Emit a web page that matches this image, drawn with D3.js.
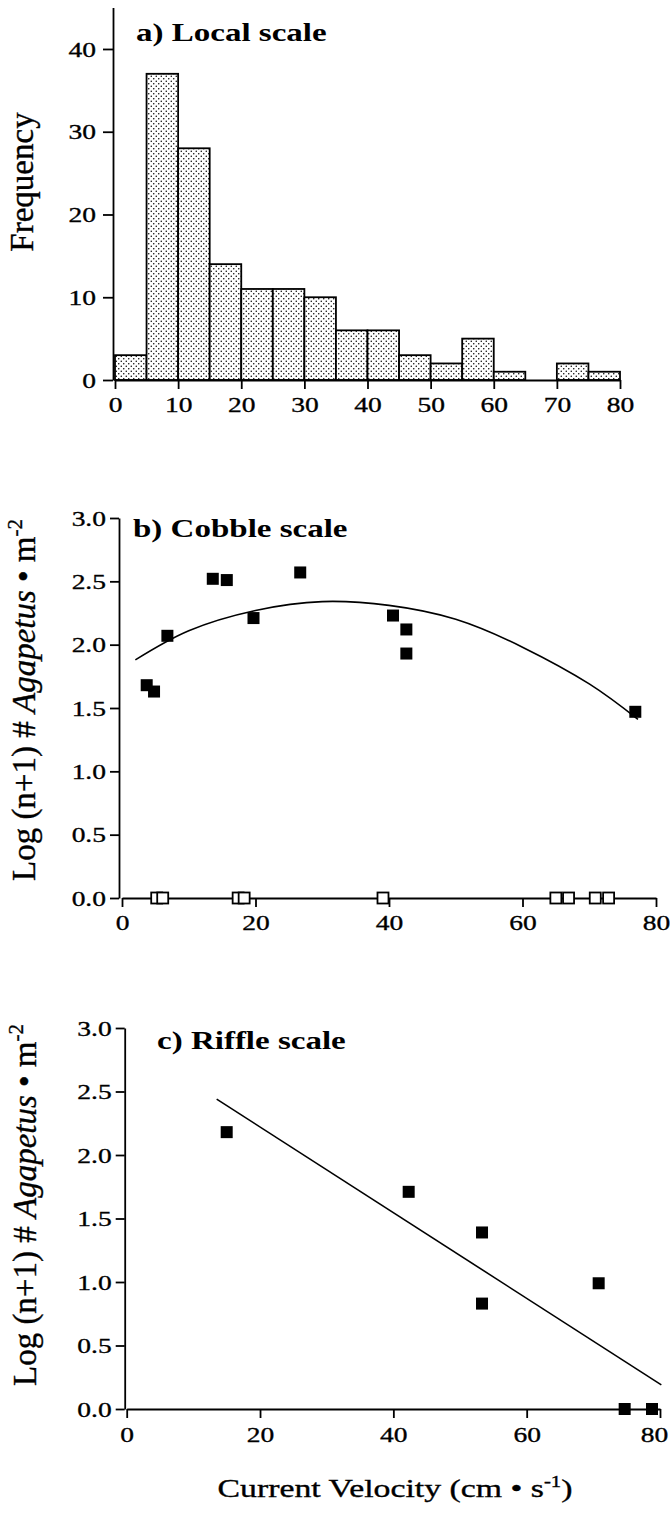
<!DOCTYPE html>
<html>
<head>
<meta charset="utf-8">
<script src="https://cdn.jsdelivr.net/npm/d3@7"></script>
<style>
    body { margin: 0; background: #fff; }
    svg text { font-family: "Liberation Serif", "Times New Roman", serif; fill: #000; }
    svg text.ink { stroke: #000; stroke-width: 0.35; }
</style>
</head>
<body>
<div id="chart"></div>
<script>

// a) Local scale - histogram of current velocity (bins of 5 cm/s)
var binStart = [0, 5, 10, 15, 20, 25, 30, 35, 40, 45, 50, 55, 60, 65, 70, 75];
var binCounts = [3, 37, 28, 14, 11, 11, 10, 6, 6, 3, 2, 5, 1, 0, 2, 1];
var freqTicks = [0, 10, 20, 30, 40];
var velTicksA = [0, 10, 20, 30, 40, 50, 60, 70, 80];

// b) Cobble scale
var cobbleX = [3.7, 4.8, 6.8, 13.6, 15.7, 19.7, 26.7, 40.6, 42.6, 42.6, 76.9];
var cobbleY = [1.68, 1.63, 2.07, 2.52, 2.51, 2.21, 2.57, 2.23, 2.12, 1.93, 1.47];
var cobbleZeroX = [5.2, 6.1, 17.4, 18.3, 39.1, 65.0, 66.9, 70.9, 72.9];   // open squares, no Agapetus
var cobbleFitX = [2, 10, 20, 30, 40, 50, 60, 70, 77.3];
var cobbleFitY = [1.88, 2.11, 2.27, 2.34, 2.31, 2.20, 1.98, 1.69, 1.41];

// c) Riffle scale
var riffleX = [15.0, 42.3, 53.3, 53.3, 70.8, 74.7, 78.8];
var riffleY = [2.18, 1.71, 1.39, 0.83, 0.99, 0, 0];
var riffleFitX = [13.5, 80.2];
var riffleFitY = [2.44, 0.19];

var logTicks = [0, 0.5, 1.0, 1.5, 2.0, 2.5, 3.0];
var velTicksBC = [0, 20, 40, 60, 80];

var FONT_STRETCH = 1.25;

var svg = d3.select("#chart").append("svg")
    .attr("width", 670)
    .attr("height", 1515);

svg.append("rect").attr("width", 670).attr("height", 1515).attr("fill", "#fff");

// dotted fill for the histogram bars
var pat = svg.append("defs").append("pattern")
    .attr("id", "dots")
    .attr("patternUnits", "userSpaceOnUse")
    .attr("width", 5)
    .attr("height", 5);
pat.append("rect").attr("width", 5).attr("height", 5).attr("fill", "#fff");
pat.append("circle").attr("cx", 1.25).attr("cy", 1.25).attr("r", 0.75).attr("fill", "#000");
pat.append("circle").attr("cx", 3.75).attr("cy", 3.75).attr("r", 0.75).attr("fill", "#000");


// scanned figure is wider than it is tall, so horizontal text gets stretched
function stretchText(sel, s){
    sel.each(function(){
        var t = d3.select(this);
        var x = +t.attr("x") || 0, y = +t.attr("y") || 0;
        t.attr("x", 0).attr("y", 0)
            .attr("transform", "translate(" + x + "," + y + ") scale(" + s + ",1)");
    });
}

function styleAxis(g){
    g.selectAll("path, line").attr("stroke", "#000").attr("stroke-width", 1.8);
    g.selectAll("text").attr("font-size", 22).attr("fill", "#000").attr("class", "ink");
    stretchText(g.selectAll("text"), FONT_STRETCH);
}

function addTitle(x, y, label){
    svg.append("text")
        .attr("font-size", 26)
        .attr("font-weight", "bold")
        .attr("transform", "translate(" + x + "," + y + ") scale(1.27,1)")
        .text(label);
}

function addLogLabel(x, y){
    var t = svg.append("text")
        .attr("class", "ink")
        .attr("font-size", 33)
        .attr("text-anchor", "middle")
        .attr("transform", "translate(" + x + "," + y + ") rotate(-90)");
    t.append("tspan").text("Log (n+1) # ");
    t.append("tspan").attr("font-style", "italic").text("Agapetus");
    t.append("tspan").text(" \u2022 m");
    t.append("tspan").attr("font-size", 21).attr("dy", -13).text("-2");
}

/*
 * Panel a - histogram
 */
var xA = d3.scaleLinear().domain([0, 80]).range([115, 620]);
var yA = d3.scaleLinear().domain([0, 45]).range([380, 7.6]);

svg.selectAll(".bar")
    .data(binStart.map(function(d, i){ return {x0: d, count: binCounts[i]}; }).filter(d => d.count > 0))
    .enter().append("rect")
    .attr("class", "bar")
    .attr("x", d => xA(d.x0))
    .attr("y", d => yA(d.count))
    .attr("width", d => xA(d.x0 + 5) - xA(d.x0))
    .attr("height", d => yA(0) - yA(d.count))
    .attr("fill", "url(#dots)")
    .attr("stroke", "#000")
    .attr("stroke-width", 1.8);

var gxA = svg.append("g")
    .attr("transform", "translate(0," + yA(0) + ")")
    .call(d3.axisBottom(xA).tickValues(velTicksA).tickSize(9).tickSizeOuter(0).tickPadding(7));
styleAxis(gxA);

var gyA = svg.append("g")
    .attr("transform", "translate(" + (xA(0) - 2) + ",0)")
    .call(d3.axisLeft(yA).tickValues(freqTicks).tickSize(10).tickSizeOuter(0).tickPadding(7));
styleAxis(gyA);

addTitle(136, 41, "a) Local scale");

svg.append("text")
    .attr("class", "ink")
    .attr("font-size", 33)
    .attr("text-anchor", "middle")
    .attr("transform", "translate(33,182) rotate(-90)")
    .text("Frequency");

/*
 * Panel b - cobble scale
 */
var xB = d3.scaleLinear().domain([0, 80]).range([122, 656]);
var yB = d3.scaleLinear().domain([0, 3]).range([898, 518]);

var gxB = svg.append("g")
    .attr("transform", "translate(0," + yB(0) + ")")
    .call(d3.axisBottom(xB).tickValues(velTicksBC).tickSize(9).tickSizeOuter(0).tickPadding(7));
styleAxis(gxB);

var gyB = svg.append("g")
    .attr("transform", "translate(" + (xB(0) - 3) + ",0)")
    .call(d3.axisLeft(yB).tickValues(logTicks).tickFormat(d3.format(".1f")).tickSize(9).tickSizeOuter(0).tickPadding(4));
styleAxis(gyB);

svg.append("path")
    .datum(cobbleFitX.map((d, i) => [d, cobbleFitY[i]]))
    .attr("fill", "none")
    .attr("stroke", "#000")
    .attr("stroke-width", 1.6)
    .attr("d", d3.line().x(d => xB(d[0])).y(d => yB(d[1])).curve(d3.curveNatural));

svg.selectAll(".cobble")
    .data(cobbleX.map((d, i) => [d, cobbleY[i]]))
    .enter().append("rect")
    .attr("class", "cobble")
    .attr("x", d => xB(d[0]) - 6)
    .attr("y", d => yB(d[1]) - 6)
    .attr("width", 12)
    .attr("height", 12)
    .attr("fill", "#000");

svg.selectAll(".cobble-zero")
    .data(cobbleZeroX)
    .enter().append("rect")
    .attr("class", "cobble-zero")
    .attr("x", d => xB(d) - 5.5)
    .attr("y", yB(0) - 5.5)
    .attr("width", 11)
    .attr("height", 11)
    .attr("fill", "#fff")
    .attr("stroke", "#000")
    .attr("stroke-width", 1.8);

addTitle(133, 537, "b) Cobble scale");
addLogLabel(35, 700);

/*
 * Panel c - riffle scale
 */
var xC = d3.scaleLinear().domain([0, 80]).range([126.7, 660]);
var yC = d3.scaleLinear().domain([0, 3]).range([1409, 1028]);

var gxC = svg.append("g")
    .attr("transform", "translate(0," + yC(0) + ")")
    .call(d3.axisBottom(xC).tickValues(velTicksBC).tickSize(9).tickSizeOuter(0).tickPadding(8));
styleAxis(gxC);

// last label sits against the page edge in the scan, nudge it in
gxC.selectAll(".tick").filter(d => d === 80).select("text")
    .attr("transform", function(){ return "translate(-6,0) " + d3.select(this).attr("transform"); });

var gyC = svg.append("g")
    .attr("transform", "translate(" + (xC(0) - 2) + ",0)")
    .call(d3.axisLeft(yC).tickValues(logTicks).tickFormat(d3.format(".1f")).tickSize(9).tickSizeOuter(0).tickPadding(4));
styleAxis(gyC);

svg.append("path")
    .datum(riffleFitX.map((d, i) => [d, riffleFitY[i]]))
    .attr("fill", "none")
    .attr("stroke", "#000")
    .attr("stroke-width", 1.6)
    .attr("d", d3.line().x(d => xC(d[0])).y(d => yC(d[1])));

svg.selectAll(".riffle")
    .data(riffleX.map((d, i) => [d, riffleY[i]]))
    .enter().append("rect")
    .attr("class", "riffle")
    .attr("x", d => xC(d[0]) - 6)
    .attr("y", d => yC(d[1]) - 6)
    .attr("width", 12)
    .attr("height", 12)
    .attr("fill", "#000");

addTitle(157, 1049, "c) Riffle scale");
addLogLabel(36, 1205);

// shared x title
var xt = svg.append("text")
    .attr("class", "ink")
    .attr("font-size", 26)
    .attr("text-anchor", "middle")
    .attr("transform", "translate(395,1497) scale(1.3,1)");
xt.append("tspan").text("Current Velocity (cm \u2022 s");
xt.append("tspan").attr("font-size", 16).attr("dy", -10).text("-1");
xt.append("tspan").attr("dy", 10).text(")");

</script>
</body>
</html>
